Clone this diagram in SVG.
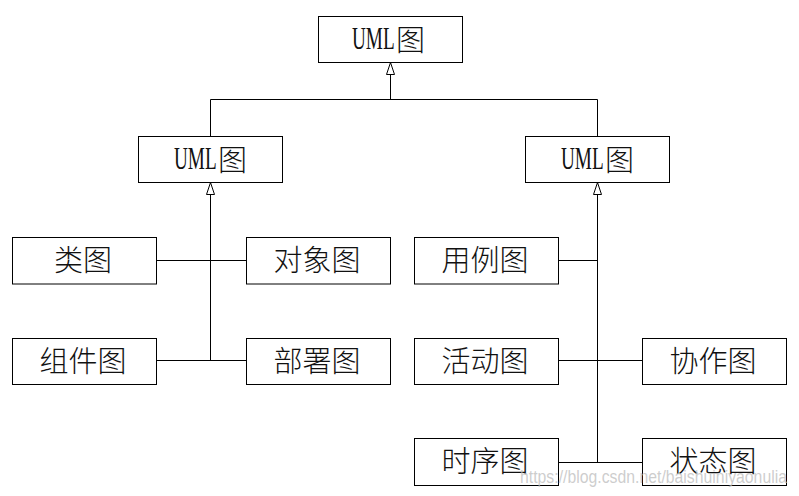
<svg xmlns="http://www.w3.org/2000/svg" width="799" height="496" viewBox="0 0 799 496">
<style>
.box{fill:#fff;stroke:#000;stroke-width:1}
.c{fill:none;stroke:#000;stroke-width:1}
.t{font-family:"Noto Sans CJK SC","Noto Sans CJK JP",sans-serif;font-size:29px;font-weight:300;fill:#111;text-anchor:middle;dominant-baseline:central}
.tl{font-family:"Noto Sans CJK SC","Noto Sans CJK JP",sans-serif;font-size:29px;font-weight:300;fill:#111;dominant-baseline:central}
.lat{font-family:"Liberation Serif","Times New Roman",serif;font-size:31px;fill:#111}
.wm{font-family:"Liberation Sans",Arial,sans-serif;font-size:19px;fill:#bdbdbd;fill-opacity:0.75}
</style>
<defs>
<marker id="gen" markerUnits="userSpaceOnUse" markerWidth="14" markerHeight="11" refX="12.5" refY="5" orient="auto" overflow="visible">
<path d="M0.5,1 L12.5,5 L0.5,9 Z" fill="#fff" stroke="#000" stroke-width="1"/>
</marker>
</defs>
<rect width="799" height="496" fill="#fff"/>
<g id="connectors">
<path class="c" d="M390.5,99.5 V62.5" marker-end="url(#gen)"/>
<path class="c" d="M210.5,136.5 V99.5 H597.5 V136.5"/>
<path class="c" d="M210.5,360.5 V182.5" marker-end="url(#gen)"/>
<path class="c" d="M156.5,260.5 H246.5"/>
<path class="c" d="M156.5,360.5 H246.5"/>
<path class="c" d="M597.5,462.5 V182.5" marker-end="url(#gen)"/>
<path class="c" d="M558.5,260.5 H597.5"/>
<path class="c" d="M558.5,360.5 H642.5"/>
<path class="c" d="M558.5,462.5 H642.5"/>
</g>
<g id="uml-root">
<rect class="box" x="318.5" y="16.5" width="144" height="46"/>
<text class="lat" transform="translate(352,48.5) scale(0.62,1)">UML</text>
<text class="tl" x="396" y="37.5">图</text>
</g>
<g id="uml-left">
<rect class="box" x="138.5" y="136.5" width="144" height="46"/>
<text class="lat" transform="translate(174,168.5) scale(0.62,1)">UML</text>
<text class="tl" x="218" y="157.5">图</text>
</g>
<g id="uml-right">
<rect class="box" x="525.5" y="136.5" width="144" height="46"/>
<text class="lat" transform="translate(561,168.5) scale(0.62,1)">UML</text>
<text class="tl" x="605" y="157.5">图</text>
</g>
<g id="class">
<rect class="box" x="12.5" y="237.5" width="144" height="46.5"/>
<text class="t" x="83" y="258">类图</text>
</g>
<g id="object">
<rect class="box" x="246.5" y="237.5" width="144" height="46.5"/>
<text class="t" x="317" y="258">对象图</text>
</g>
<g id="component">
<rect class="box" x="12.5" y="338.5" width="144" height="46"/>
<text class="t" x="83" y="358.5">组件图</text>
</g>
<g id="deployment">
<rect class="box" x="246.5" y="338.5" width="144" height="46"/>
<text class="t" x="317" y="358.5">部署图</text>
</g>
<g id="usecase">
<rect class="box" x="414.5" y="237.5" width="144" height="46.5"/>
<text class="t" x="485" y="258">用例图</text>
</g>
<g id="activity">
<rect class="box" x="414.5" y="338.5" width="144" height="46"/>
<text class="t" x="485" y="358.5">活动图</text>
</g>
<g id="collaboration">
<rect class="box" x="642.5" y="338.5" width="144" height="46"/>
<text class="t" x="713" y="358.5">协作图</text>
</g>
<g id="sequence">
<rect class="box" x="414.5" y="438.5" width="144" height="47"/>
<text class="t" x="485" y="459">时序图</text>
</g>
<g id="state">
<rect class="box" x="642.5" y="438.5" width="144" height="47"/>
<text class="t" x="713" y="459">状态图</text>
</g>
<text class="wm" x="520" y="483" textLength="267" lengthAdjust="spacingAndGlyphs">https://blog.csdn.net/baishuiniyaonulia</text>
</svg>
